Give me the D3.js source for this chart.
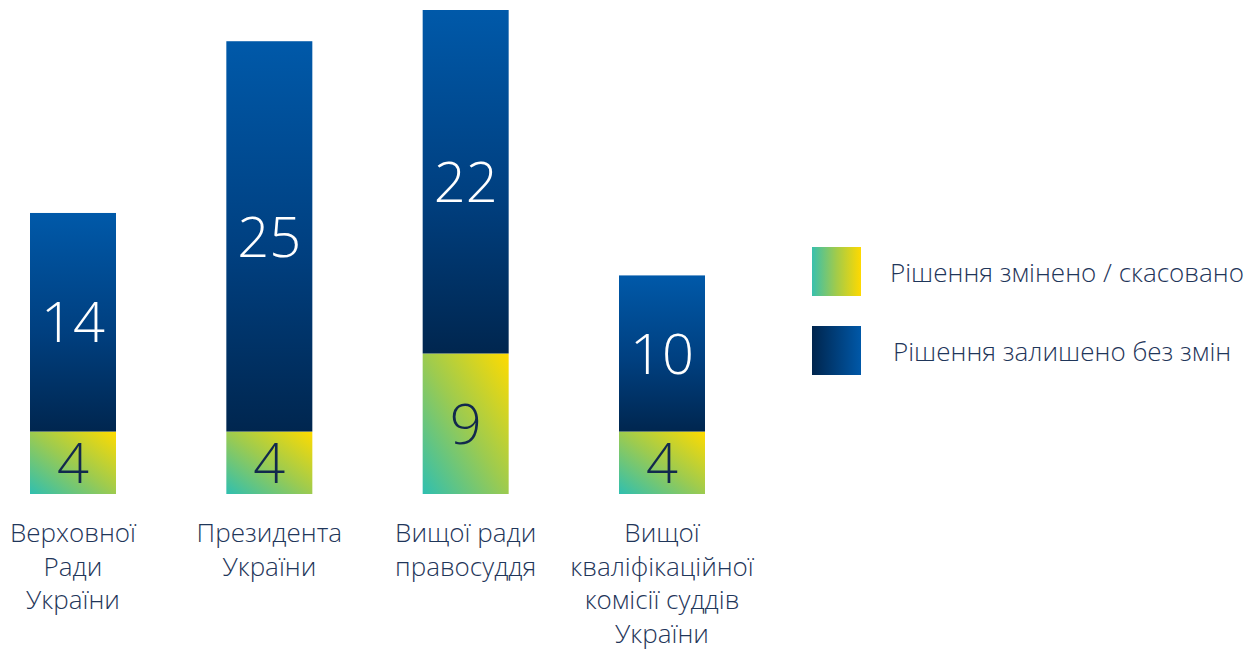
<!DOCTYPE html>
<html>
<head>
<meta charset="utf-8">
<script src="https://cdn.jsdelivr.net/npm/d3@7/dist/d3.min.js"></script>
<style>
  body { margin: 0; background: #fff; }
  text { font-family: "Open Sans", "Noto Sans", sans-serif; font-weight: 300; }
</style>
</head>
<body>
<svg id="chart" width="1259" height="651"></svg>
<script>
// data
var categories = [
    ["Верховної", "Ради", "України"],
    ["Президента", "України"],
    ["Вищої ради", "правосуддя"],
    ["Вищої", "кваліфікаційної", "комісії суддів", "України"]
];
var changedValues = [4, 4, 9, 4];
var keptValues = [14, 25, 22, 10];
var seriesNames = ["Рішення змінено / скасовано", "Рішення залишено без змін"];

function init() {
    var svg = d3.select("#chart");
    var textColor = "#1f365a";

    var defs = svg.append("defs");

    //Gradients
    function addGradient(id, x1, y1, x2, y2, stops) {
        var grad = defs.append("linearGradient")
            .attr("id", id)
            .attr("x1", x1).attr("y1", y1)
            .attr("x2", x2).attr("y2", y2);
        grad.selectAll("stop")
            .data(stops)
            .enter()
            .append("stop")
            .attr("offset", function (d) { return d[0]; })
            .attr("stop-color", function (d) { return d[1]; });
    }
    addGradient("gradGreen", 0, 1, 1, 0, [[0, "#2fbfb0"], [0.5, "#9dcb4f"], [1, "#ffdb00"]]);
    addGradient("gradBlue", 0, 0, 0, 1, [[0, "#0059a9"], [0.55, "#003f7f"], [1, "#00264f"]]);
    addGradient("legGreen", 0, 0, 1, 0, [[0, "#38c0ad"], [0.5, "#a2cb4a"], [1, "#ffd900"]]);
    addGradient("legBlue", 0, 0, 1, 0, [[0, "#00254d"], [1, "#0058a8"]]);

    var idx = d3.range(categories.length);

    var x = d3.scaleBand()
        .domain(idx)
        .range([30, 705])
        .paddingInner(0.562)
        .paddingOuter(0);

    var y = d3.scaleLinear()
        .domain([0, 31])
        .range([494, 10]);

    var g = svg.append("g");

    var stackData = idx.map(function (i) {
        return { i: i, changed: changedValues[i], kept: keptValues[i] };
    });
    var stack = d3.stack().keys(["changed", "kept"])(stackData);

    var layers = g.selectAll("g.layer")
        .data(stack)
        .enter()
        .append("g")
        .attr("class", "layer");

    layers.selectAll("rect")
        .data(function (d) { return d.map(function (p) { p.key = d.key; return p; }); })
        .enter()
        .append("rect")
        .attr("x", function (d) { return x(d.data.i); })
        .attr("width", x.bandwidth())
        .attr("y", function (d) { return y(d[1]); })
        .attr("height", function (d) { return y(d[0]) - y(d[1]); })
        .attr("fill", function (d) {
            return d.key === "changed" ? "url(#gradGreen)" : "url(#gradBlue)";
        });

    //Value labels
    layers.selectAll("text")
        .data(function (d) { return d; })
        .enter()
        .append("text")
        .attr("x", function (d) { return x(d.data.i) + x.bandwidth() / 2; })
        .attr("y", function (d) { return (y(d[0]) + y(d[1])) / 2; })
        .attr("dy", "0.36em")
        .attr("text-anchor", "middle")
        .attr("font-size", 56)
        .attr("fill", function (d) { return d.key === "changed" ? "#12294d" : "#ffffff"; })
        .text(function (d) { return d[1] - d[0]; });

    //Category labels
    var catText = g.selectAll("text.cat")
        .data(idx)
        .enter()
        .append("text")
        .attr("class", "cat")
        .attr("text-anchor", "middle")
        .attr("font-size", 26)
        .attr("fill", textColor)
        .attr("transform", function (i) {
            return "translate(" + (x(i) + x.bandwidth() / 2) + ",542)";
        });
    catText.selectAll("tspan")
        .data(function (i) { return categories[i]; })
        .enter()
        .append("tspan")
        .attr("x", 0)
        .attr("y", function (d, j) { return j * 33.5; })
        .text(function (d) { return d; });

    //Legend
    var legend = svg.append("g")
        .selectAll("g")
        .data(seriesNames)
        .enter()
        .append("g")
        .attr("transform", function (d, i) { return "translate(812," + (247 + i * 79) + ")"; });
    legend.append("rect")
        .attr("width", 49)
        .attr("height", 49)
        .attr("fill", function (d, i) { return i === 0 ? "url(#legGreen)" : "url(#legBlue)"; });
    legend.append("text")
        .attr("x", function (d, i) { return i === 0 ? 78 : 81; })
        .attr("y", 35)
        .attr("font-size", 26)
        .attr("fill", textColor)
        .text(function (d) { return d; });
}

init();
</script>
</body>
</html>
